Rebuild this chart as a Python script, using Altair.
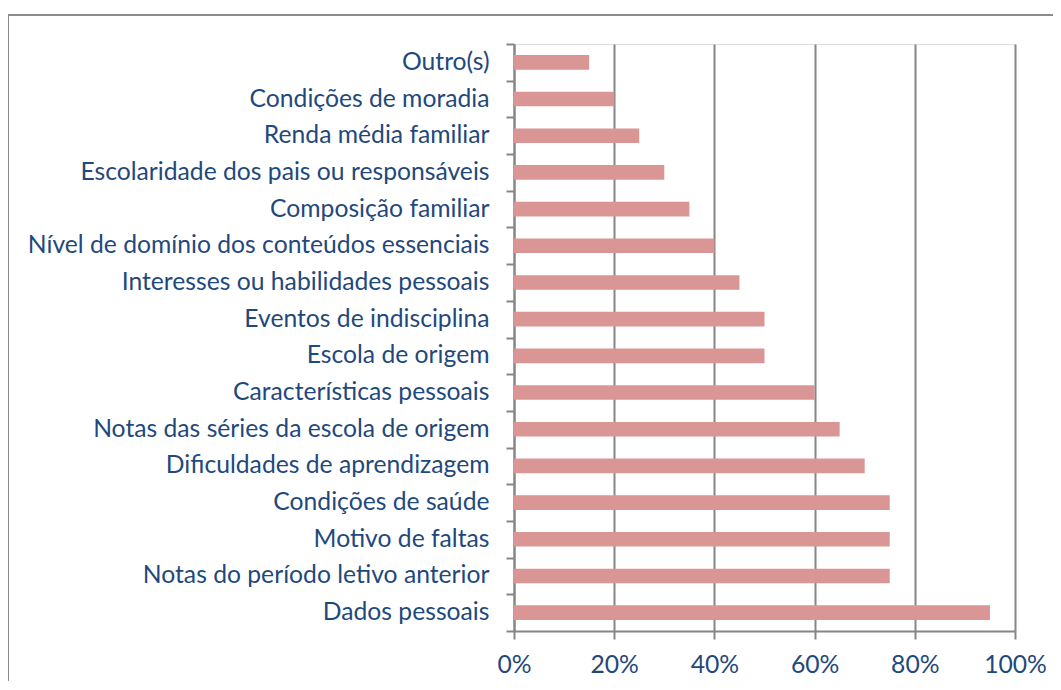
import altair as alt
import pandas as pd

categories = [
    "Outro(s)",
    "Condições de moradia",
    "Renda média familiar",
    "Escolaridade dos pais ou responsáveis",
    "Composição familiar",
    "Nível de domínio dos conteúdos essenciais",
    "Interesses ou habilidades pessoais",
    "Eventos de indisciplina",
    "Escola de origem",
    "Características pessoais",
    "Notas das séries da escola de origem",
    "Dificuldades de aprendizagem",
    "Condições de saúde",
    "Motivo de faltas",
    "Notas do período letivo anterior",
    "Dados pessoais",
]
values = [0.15, 0.20, 0.25, 0.30, 0.35, 0.40, 0.45, 0.50, 0.50, 0.60, 0.65, 0.70, 0.75, 0.75, 0.75, 0.95]
x_ticks = [0, 0.2, 0.4, 0.6, 0.8, 1.0]

df = pd.DataFrame({"cat": categories, "val": values})

FONT = "Lato"
FS = 24.7
TXT = "#1F497D"
GRID = "#868686"

bars = alt.Chart(df).mark_bar(
    color="#D99694", height=alt.RelativeBandSize(band=0.4)
).encode(
    y=alt.Y(
        "cat:N",
        sort=categories,
        title=None,
        scale=alt.Scale(paddingInner=0, paddingOuter=0),
        axis=alt.Axis(
            tickBand="extent",
            tickSize=8,
            tickColor=GRID,
            tickWidth=2,
            domainColor=GRID,
            domainWidth=2,
            labelFont=FONT,
            labelFontSize=FS,
            labelColor=TXT,
            labelPadding=17,
            labelLimit=600,
            grid=False,
        ),
    ),
    x=alt.X(
        "val:Q",
        title=None,
        scale=alt.Scale(domain=[0, 1], nice=False),
        axis=alt.Axis(
            values=x_ticks,
            format=".0%",
            tickSize=8,
            tickColor=GRID,
            tickWidth=2,
            domainColor=GRID,
            domainWidth=2,
            grid=True,
            gridColor=GRID,
            gridWidth=2,
            labelFont=FONT,
            labelFontSize=FS,
            labelColor=TXT,
            labelPadding=13,
            labelFlush=False,
        ),
    ),
)

frame = alt.Chart(alt.Data(values=[{}])).mark_rect(
    filled=False, stroke="#8C8C8C", strokeWidth=2
).encode(
    x=alt.value(-506),
    x2=alt.value(600),
    y=alt.value(-29),
    y2=alt.value(720),
)

chart = alt.layer(bars, frame).properties(
    width=501,
    height=587,
    autosize=alt.AutoSizeParams(type="none"),
    padding={"left": 506, "top": 36, "right": 38, "bottom": 50},
).configure_view(stroke=None).configure(background="white")

chart.save("out.html", embed_options={"renderer": "svg", "actions": False})
